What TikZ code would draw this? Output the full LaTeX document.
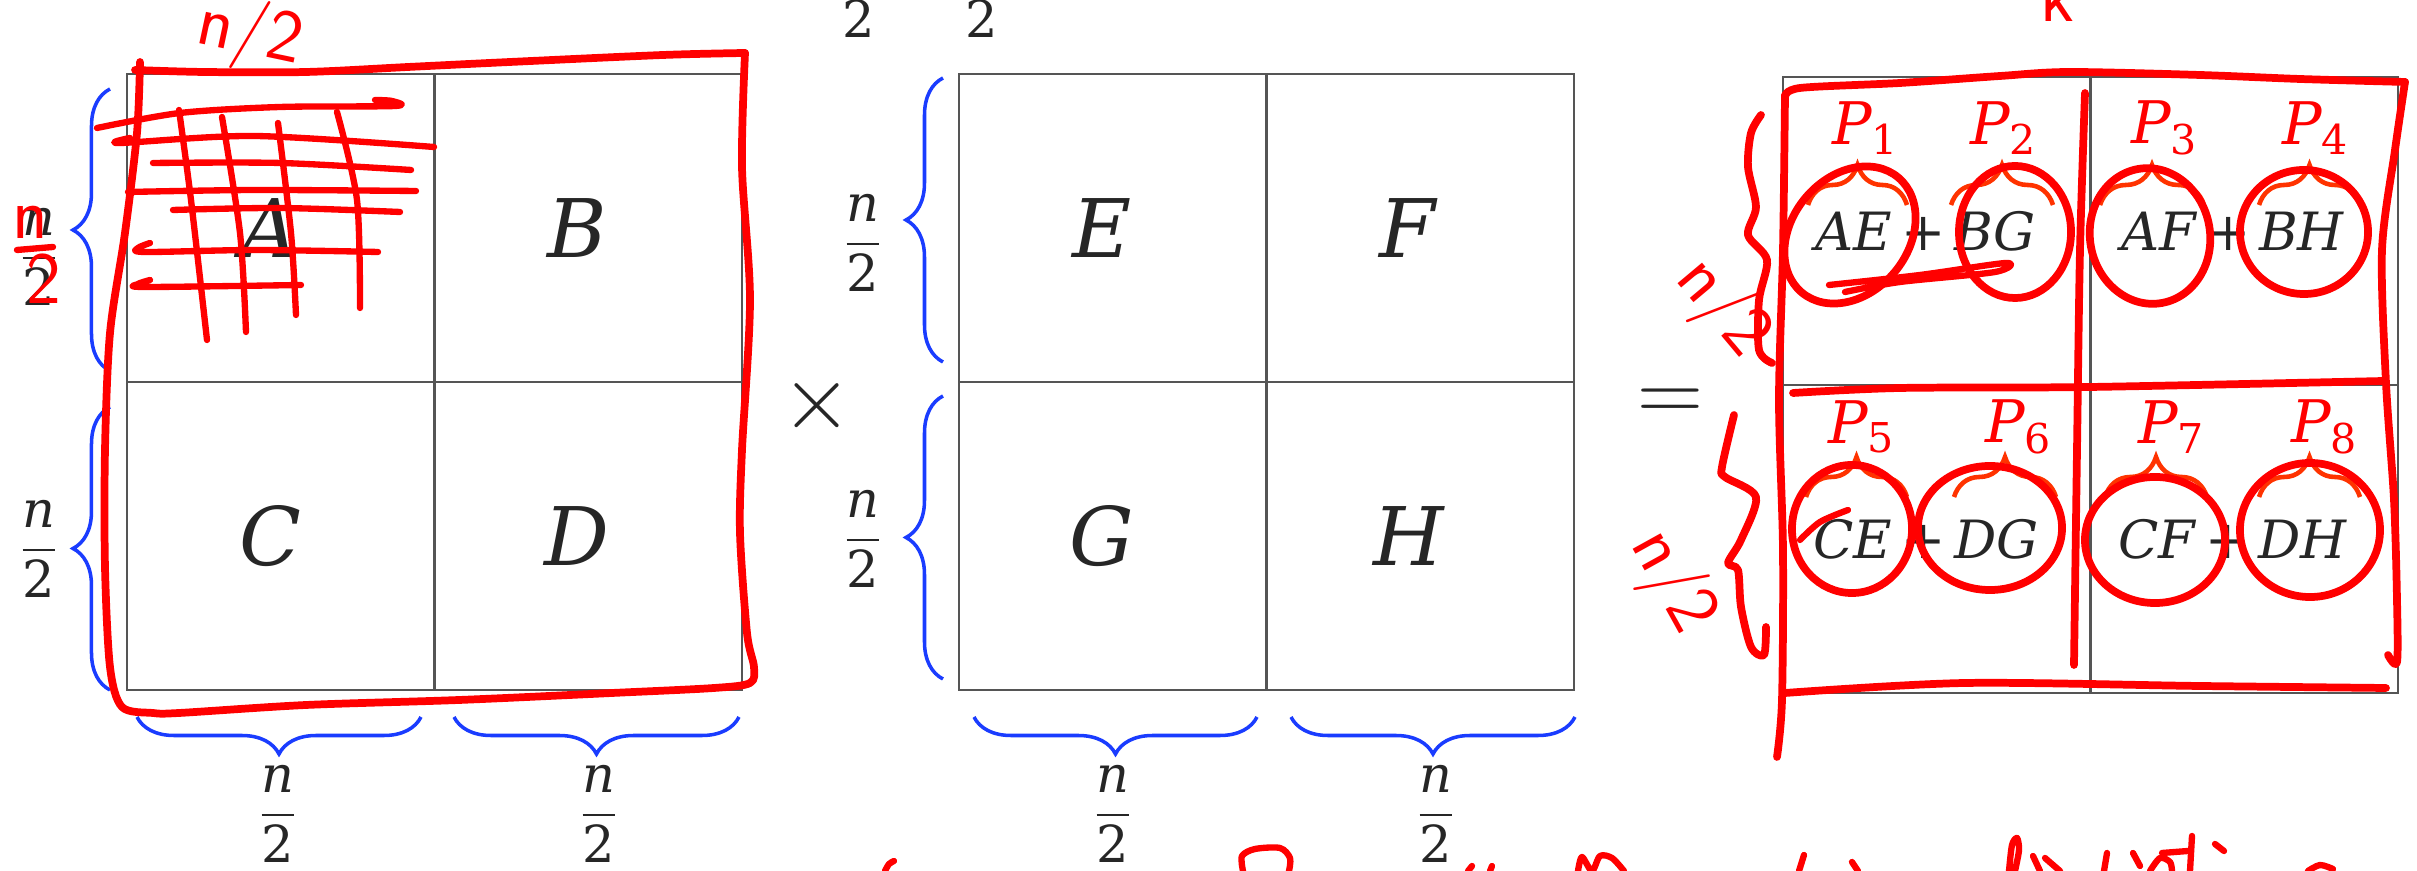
\RequirePackage{fix-cm}
\documentclass[tikz,border=0pt]{standalone}
\usepackage{amsmath}
\usepackage{fontspec}
\setmainfont{DejaVu Serif}
\usetikzlibrary{decorations.pathreplacing}
\definecolor{Ink}{HTML}{262626}
\definecolor{Grid}{HTML}{555555}
\definecolor{BraceBlue}{HTML}{1A3CFF}
\definecolor{TagRed}{HTML}{FF0000}
\definecolor{TagOrange}{HTML}{FF3300}
\definecolor{PenRed}{HTML}{FF0000}
\newcommand{\sv}[1]{\textit{#1}}
\newcommand{\half}{$\dfrac{\textit{n}}{\textup{2}}$}
\tikzset{
  cell/.style={draw=Grid,line width=0.6pt,minimum size=3.075cm,inner sep=0pt,text=Ink,font=\fontsize{23}{28}\selectfont,execute at begin node={\kern-0.22cm}},
  sumcell/.style={cell,font=\fontsize{15}{18}\selectfont,execute at begin node={}},
  opsign/.style={text=Ink,inner sep=0pt,font=\fontsize{26}{30}\selectfont},
  dimbrace/.style={draw=BraceBlue,line width=1pt,decorate,decoration={brace,amplitude=0.37cm}},
  dimlabel/.style={text=Ink,inner sep=0pt,font=\fontsize{14.5}{17}\selectfont},
  tag/.style={text=TagRed,inner sep=0pt,font=\fontsize{16.7}{20}\selectfont},
  tagbrace/.style={draw=TagOrange,line width=1.3pt,decorate,decoration={brace,amplitude=0.4cm}},
  pen/.style={draw=PenRed,line width=2.2pt,line cap=round,line join=round},
  thinpen/.style={pen,line width=1.8pt},
  penwrite/.style={text=PenRed,inner sep=0pt,font=\fontsize{21}{16}\sffamily}
}
\begin{document}
\begin{tikzpicture}[x=0.01cm,y=-0.01cm]
  \useasboundingbox (0,0) rectangle (2417,871);
  \fill[white] (0,0) rectangle (2417,871);

  % first factor
  \node[cell] (A) at (281,228) {\sv{A}};
  \node[cell] (B) at (588,228) {\sv{B}};
  \node[cell] (C) at (281,536) {\sv{C}};
  \node[cell] (D) at (588,536) {\sv{D}};
  % second factor
  \node[cell] (E) at (1113,228) {\sv{E}};
  \node[cell] (F) at (1420,228) {\sv{F}};
  \node[cell] (G) at (1113,536) {\sv{G}};
  \node[cell] (H) at (1420,536) {\sv{H}};
  % product
  \node[sumcell] (AEBG) at (1937,231) {\sv{AE}\,+\,\sv{BG}};
  \node[sumcell] (AFBH) at (2244,231) {\sv{AF}\,+\,\sv{BH}};
  \node[sumcell] (CEDG) at (1937,539) {\sv{CE}\,+\,\sv{DG}};
  \node[sumcell] (CFDH) at (2244,539) {\sv{CF}\,+\,\sv{DH}};

  \node[opsign] (times) at (817,406) {$\times$};
  \node[opsign] (equals) at (1670,405) {$=$};

  % dimension braces
  \draw[dimbrace] (110,371) -- (110,89);
  \draw[dimbrace] (110,690) -- (110,407);
  \draw[dimbrace] (421,717) -- (137,717);
  \draw[dimbrace] (739,717) -- (454,717);
  \draw[dimbrace] (943,362) -- (943,78);
  \draw[dimbrace] (943,679) -- (943,396);
  \draw[dimbrace] (1257,717) -- (974,717);
  \draw[dimbrace] (1575,717) -- (1291,717);

  \node[dimlabel] (hA) at (39,257) {\half};
  \node[dimlabel] (hC) at (39,549) {\half};
  \node[dimlabel] (wA) at (278,814) {\half};
  \node[dimlabel] (wB) at (599,814) {\half};
  \node[dimlabel] (hE) at (863,243) {\half};
  \node[dimlabel] (hG) at (863,539) {\half};
  \node[dimlabel] (wE) at (1113,814) {\half};
  \node[dimlabel] (wF) at (1436,814) {\half};
  \node[dimlabel] (cutL) at (859,19) {2};
  \node[dimlabel] (cutR) at (982,19) {2};

  % products P_i
  \node[tag] (P1) at (1866,128) {$\textit{P}_{\textup{1}}$};
  \node[tag] (P2) at (2004,128) {$\textit{P}_{\textup{2}}$};
  \node[tag] (P3) at (2165,128) {$\textit{P}_{\textup{3}}$};
  \node[tag] (P4) at (2316,128) {$\textit{P}_{\textup{4}}$};
  \node[tag] (P5) at (1862,427) {$\textit{P}_{\textup{5}}$};
  \node[tag] (P6) at (2019,427) {$\textit{P}_{\textup{6}}$};
  \node[tag] (P7) at (2172,427) {$\textit{P}_{\textup{7}}$};
  \node[tag] (P8) at (2325,427) {$\textit{P}_{\textup{8}}$};
  \draw[tagbrace] (1808,205) -- (1907,205);
  \draw[tagbrace] (1951,205) -- (2053,205);
  \draw[tagbrace] (2100,205) -- (2204,205);
  \draw[tagbrace] (2259,205) -- (2360,205);
  \draw[tagbrace] (1806,497) -- (1907,497);
  \draw[tagbrace] (1954,497) -- (2056,497);
  \draw[tagbrace] (2105,497) -- (2207,497);
  \draw[tagbrace] (2259,497) -- (2360,497);

  % pen: box round the first factor
  \draw[pen] plot[smooth] coordinates {(135,70) (204,72) (306,72) (408,67) (510,62) (663,55) (745,53)};
  \draw[pen] plot[smooth] coordinates {(745,53) (742,167) (750,300) (742,450) (740,533) (747,633) (754,667) (750,683)
    (714,688) (612,693) (459,700) (306,705) (179,713) (153,713) (122,707) (110,667) (105,567) (105,450) (110,333) (125,233) (137,133) (140,62)};
  % pen: grid scribble in A
  \draw[thinpen] plot[smooth] coordinates {(97,128) (180,113) (280,107) (395,106) (392,101) (375,100)};
  \draw[thinpen] plot[smooth] coordinates {(130,138) (120,143) (255,136) (434,147)};
  \draw[thinpen] plot[smooth] coordinates {(153,163) (281,163) (411,170)};
  \draw[thinpen] plot[smooth] coordinates {(128,192) (255,190) (416,191)};
  \draw[thinpen] plot[smooth] coordinates {(173,210) (281,208) (400,212)};
  \draw[thinpen] plot[smooth] coordinates {(150,243) (138,248) (145,252) (255,250) (378,252)};
  \draw[thinpen] plot[smooth] coordinates {(150,280) (138,284) (145,287) (301,285)};
  \draw[thinpen] plot[smooth] coordinates {(179,110) (191,200) (207,340)};
  \draw[thinpen] plot[smooth] coordinates {(222,117) (240,233) (246,332)};
  \draw[thinpen] plot[smooth] coordinates {(278,123) (291,233) (296,315)};
  \draw[thinpen] plot[smooth] coordinates {(337,112) (357,200) (360,308)};
  \node[penwrite,rotate=-12] (halfTop) at (250,35) {n/2};
  \node[penwrite] (halfLeftN) at (30,222) {n};
  \draw[thinpen] (17,250) -- (53,247);
  \node[penwrite] (halfLeftD) at (44,279) {2};

  % pen: box round the product
  \draw[pen] plot[smooth] coordinates {(1785,97) (1800,88) (1900,83) (2000,76) (2069,72) (2200,75) (2300,79) (2405,82)};
  \draw[pen] plot[smooth] coordinates {(2405,82) (2395,150) (2382,250) (2386,383) (2394,500) (2397,600) (2397,662) (2388,655)};
  \draw[pen] plot[smooth] coordinates {(1785,95) (1783,250) (1779,400) (1783,550) (1782,700) (1777,757)};
  \draw[pen] plot[smooth] coordinates {(1793,393) (1900,388) (2090,387) (2384,381)};
  \draw[pen] plot[smooth] coordinates {(2085,93) (2080,250) (2077,450) (2074,665)};
  \draw[pen] plot[smooth] coordinates {(1785,693) (1965,683) (2200,686) (2386,688)};
  % pen: loops round the products
  \draw[pen] (1850,235) ellipse [x radius=0.75cm,y radius=0.58cm,rotate=50];
  \draw[pen] (2015,232) ellipse [x radius=0.56cm,y radius=0.66cm];
  \draw[pen] (2150,236) ellipse [x radius=0.60cm,y radius=0.68cm,rotate=10];
  \draw[pen] (2304,232) ellipse [x radius=0.64cm,y radius=0.62cm];
  \draw[pen] (1852,529) ellipse [x radius=0.60cm,y radius=0.64cm];
  \draw[pen] (1990,528) ellipse [x radius=0.72cm,y radius=0.62cm];
  \draw[pen] (2155,540) ellipse [x radius=0.70cm,y radius=0.63cm];
  \draw[pen] (2310,530) ellipse [x radius=0.70cm,y radius=0.67cm];
  \draw[thinpen] plot[smooth] coordinates {(1829,285) (1920,275) (2006,263) (1995,272) (1900,282) (1845,292)};
  \draw[thinpen] plot[smooth] coordinates {(1800,540) (1820,522) (1848,510)};
  % pen: halves beside the product
  \draw[pen] plot[smooth] coordinates {(1761,115) (1751,133) (1748,167) (1756,207) (1748,235) (1767,260) (1759,300) (1759,350) (1772,363)};
  \draw[pen] plot[smooth] coordinates {(1734,415) (1722,467) (1725,477) (1756,497) (1741,540) (1728,563) (1738,570) (1741,607) (1751,647) (1764,655) (1766,627)};
  \node[penwrite,rotate=-50] (halfUp) at (1722,308) {n/2};
  \node[penwrite,rotate=-61] (halfDown) at (1672,582) {n/2};
  \node[penwrite,anchor=south] (kmark) at (2057,22) {k};

  % pen: words cut by the lower edge
  \draw[thinpen] plot[smooth] coordinates {(885,871) (889,864) (894,861)};
  \draw[thinpen] plot[smooth] coordinates {(1243,871) (1242,856) (1255,849) (1280,848) (1290,858) (1289,871)};
  \draw[thinpen] (1468,871) -- (1472,866);
  \draw[thinpen] (1490,871) -- (1492,866);
  \draw[thinpen] plot[smooth] coordinates {(1578,871) (1582,857) (1592,871) (1600,856) (1612,858) (1624,871)};
  \draw[thinpen] (1799,871) -- (1804,855);
  \draw[thinpen] (1852,862) -- (1858,871);
  \draw[thinpen] plot[smooth] coordinates {(2009,871) (2012,845) (2017,838) (2019,850) (2015,871)};
  \draw[thinpen] (2033,856) -- (2040,871);
  \draw[thinpen] (2045,858) -- (2060,871);
  \draw[thinpen] (2104,871) -- (2107,853);
  \draw[thinpen] (2133,853) -- (2140,866);
  \draw[thinpen] plot[smooth] coordinates {(2150,871) (2160,858) (2170,862) (2172,871)};
  \draw[thinpen] (2162,853) -- (2188,851);
  \draw[thinpen] (2190,871) -- (2192,836);
  \draw[thinpen] (2215,844) -- (2224,851);
  \draw[thinpen] plot[smooth] coordinates {(2308,871) (2320,865) (2333,869)};
\end{tikzpicture}
\end{document}
